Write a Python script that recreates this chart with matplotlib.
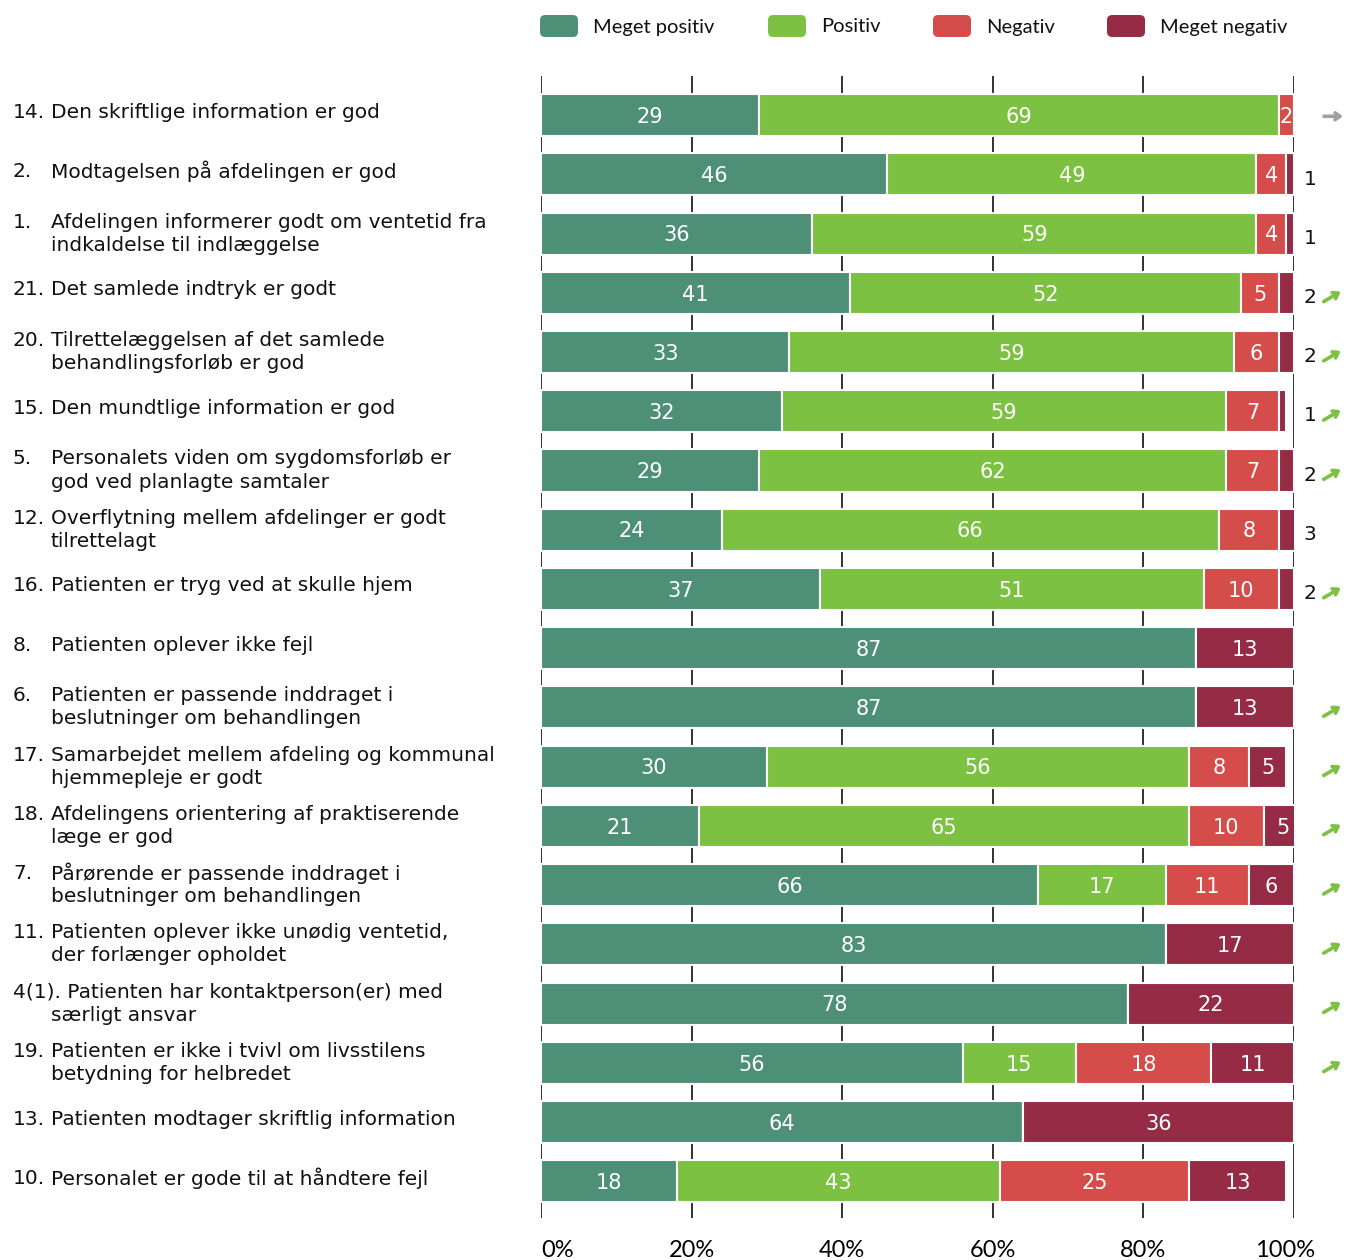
import numpy as np
import matplotlib.pyplot as plt
from matplotlib.patches import FancyBboxPatch
from matplotlib.transforms import blended_transform_factory, ScaledTranslation

plt.rcParams['font.family'] = ['DejaVu Sans']

numbers = ["14.", "2.", "1.", "21.", "20.", "15.", "5.", "12.", "16.", "8.",
           "6.", "17.", "18.", "7.", "11.", "4(1).", "19.", "13.", "10."]
questions = [
    "Den skriftlige information er god",
    "Modtagelsen på afdelingen er god",
    "Afdelingen informerer godt om ventetid fra\nindkaldelse til indlæggelse",
    "Det samlede indtryk er godt",
    "Tilrettelæggelsen af det samlede\nbehandlingsforløb er god",
    "Den mundtlige information er god",
    "Personalets viden om sygdomsforløb er\ngod ved planlagte samtaler",
    "Overflytning mellem afdelinger er godt\ntilrettelagt",
    "Patienten er tryg ved at skulle hjem",
    "Patienten oplever ikke fejl",
    "Patienten er passende inddraget i\nbeslutninger om behandlingen",
    "Samarbejdet mellem afdeling og kommunal\nhjemmepleje er godt",
    "Afdelingens orientering af praktiserende\nlæge er god",
    "Pårørende er passende inddraget i\nbeslutninger om behandlingen",
    "Patienten oplever ikke unødig ventetid,\nder forlænger opholdet",
    "Patienten har kontaktperson(er) med\nsærligt ansvar",
    "Patienten er ikke i tvivl om livsstilens\nbetydning for helbredet",
    "Patienten modtager skriftlig information",
    "Personalet er gode til at håndtere fejl",
]

meget_positiv = [29, 46, 36, 41, 33, 32, 29, 24, 37, 87, 87, 30, 21, 66, 83, 78, 56, 64, 18]
positiv       = [69, 49, 59, 52, 59, 59, 62, 66, 51, 0, 0, 56, 65, 17, 0, 0, 15, 0, 43]
negativ       = [2, 4, 4, 5, 6, 7, 7, 8, 10, 0, 0, 8, 10, 11, 0, 0, 18, 0, 25]
meget_negativ = [0, 1, 1, 2, 2, 1, 2, 3, 2, 13, 13, 5, 5, 6, 17, 22, 11, 36, 13]

# trend vs. previous survey: "up", "flat" or ""
trend = ["flat", "", "", "up", "up", "up", "up", "", "up", "",
         "up", "up", "up", "up", "up", "up", "up", "", ""]

series = ["Meget positiv", "Positiv", "Negativ", "Meget negativ"]
colors = ["#4E8F78", "#7DC142", "#D44D4A", "#952B45"]

fig = plt.figure(figsize=(13.46, 12.6), dpi=100)
ax = fig.add_axes([541 / 1346, 1 - 1218 / 1260, 753 / 1346, (1218 - 76) / 1260])

y = np.arange(len(numbers))
left = np.zeros(len(numbers))
for name, vals, col in zip(series, [meget_positiv, positiv, negativ, meget_negativ], colors):
    vals = np.array(vals, dtype=float)
    ax.barh(y, vals, left=left, height=0.71, color=col, edgecolor="white",
            linewidth=1.5, zorder=3, label=name)
    for yi, l, v in zip(y, left, vals):
        if v <= 0:
            continue
        if name == "Meget negativ" and v <= 3:
            ax.text(102.1, yi + 0.08, f"{int(v)}", ha="center", va="center",
                    fontsize=14.5, color="#111111")
        else:
            ax.text(l + v / 2, yi + 0.03, f"{int(v)}", ha="center", va="center",
                    fontsize=15, color="white", zorder=4)
    left += vals

# trend arrows to the right of the bars
arrow_style = "->,head_length=0.35,head_width=0.25"
for yi, t in zip(y, trend):
    if t == "up":
        ax.annotate("", xy=(106.2, yi - 0.02), xytext=(-17, -10),
                    textcoords="offset pixels", annotation_clip=False,
                    arrowprops=dict(arrowstyle=arrow_style, color="#7DC142",
                                    lw=2.6, shrinkA=0, shrinkB=0))
    elif t == "flat":
        ax.annotate("", xy=(106.5, yi + 0.02), xytext=(-19, 0),
                    textcoords="offset pixels", annotation_clip=False,
                    arrowprops=dict(arrowstyle=arrow_style, color="#A0A0A0",
                                    lw=2.6, shrinkA=0, shrinkB=0))

ax.set_xlim(0, 100)
ax.set_ylim(len(numbers) - 1 + 0.62, -0.66)
ax.set_xticks([0, 20, 40, 60, 80, 100])
ax.set_xticklabels(["0%", "20%", "40%", "60%", "80%", "100%"], fontsize=17,
                   family="Lato")
ax.tick_params(axis="x", length=0, pad=16)
ax.tick_params(axis="y", left=False, labelleft=False)
ticklabels = ax.get_xticklabels()
ticklabels[0].set_ha("left")
ticklabels[-1].set_transform(ticklabels[-1].get_transform()
                             + ScaledTranslation(-0.09, 0, fig.dpi_scale_trans))
ax.grid(axis="x", color="#222222", linewidth=1.3, zorder=0)
ax.set_axisbelow(True)
for s in ax.spines.values():
    s.set_visible(False)

# question labels with hanging indent after the number
tr = blended_transform_factory(fig.transFigure, ax.transData)
line_gap = 0.39
for yi, num, q in zip(y, numbers, questions):
    lines = q.split("\n")
    n = len(lines)
    base = yi - 0.05 if n == 1 else yi
    ys = [base + (k - (n - 1) / 2) * line_gap for k in range(n)]
    for k, (ly, line) in enumerate(zip(ys, lines)):
        if k == 0 and len(num) > 3:
            ax.text(13 / 1346, ly, num + " " + line, transform=tr, ha="left",
                    va="center", fontsize=14.5, color="#111111")
            continue
        if k == 0:
            ax.text(13 / 1346, ly, num, transform=tr, ha="left", va="center",
                    fontsize=14.5, color="#111111")
        ax.text(51 / 1346, ly, line, transform=tr, ha="left", va="center",
                fontsize=14.5, color="#111111")

# legend along the top
legend_x = [540, 768, 933, 1107]
for lx, name, col in zip(legend_x, series, colors):
    patch = FancyBboxPatch((lx / 1346, 1 - 37 / 1260), 38 / 1346, 22 / 1260,
                           boxstyle="round,pad=0,rounding_size=0.004",
                           transform=fig.transFigure, facecolor=col,
                           edgecolor="none")
    fig.patches.append(patch)
    fig.text((lx + 53) / 1346, 1 - 27 / 1260, name, ha="left", va="center",
             fontsize=14.5, family="Lato", color="#111111")

fig.savefig("out.png", dpi=100)
